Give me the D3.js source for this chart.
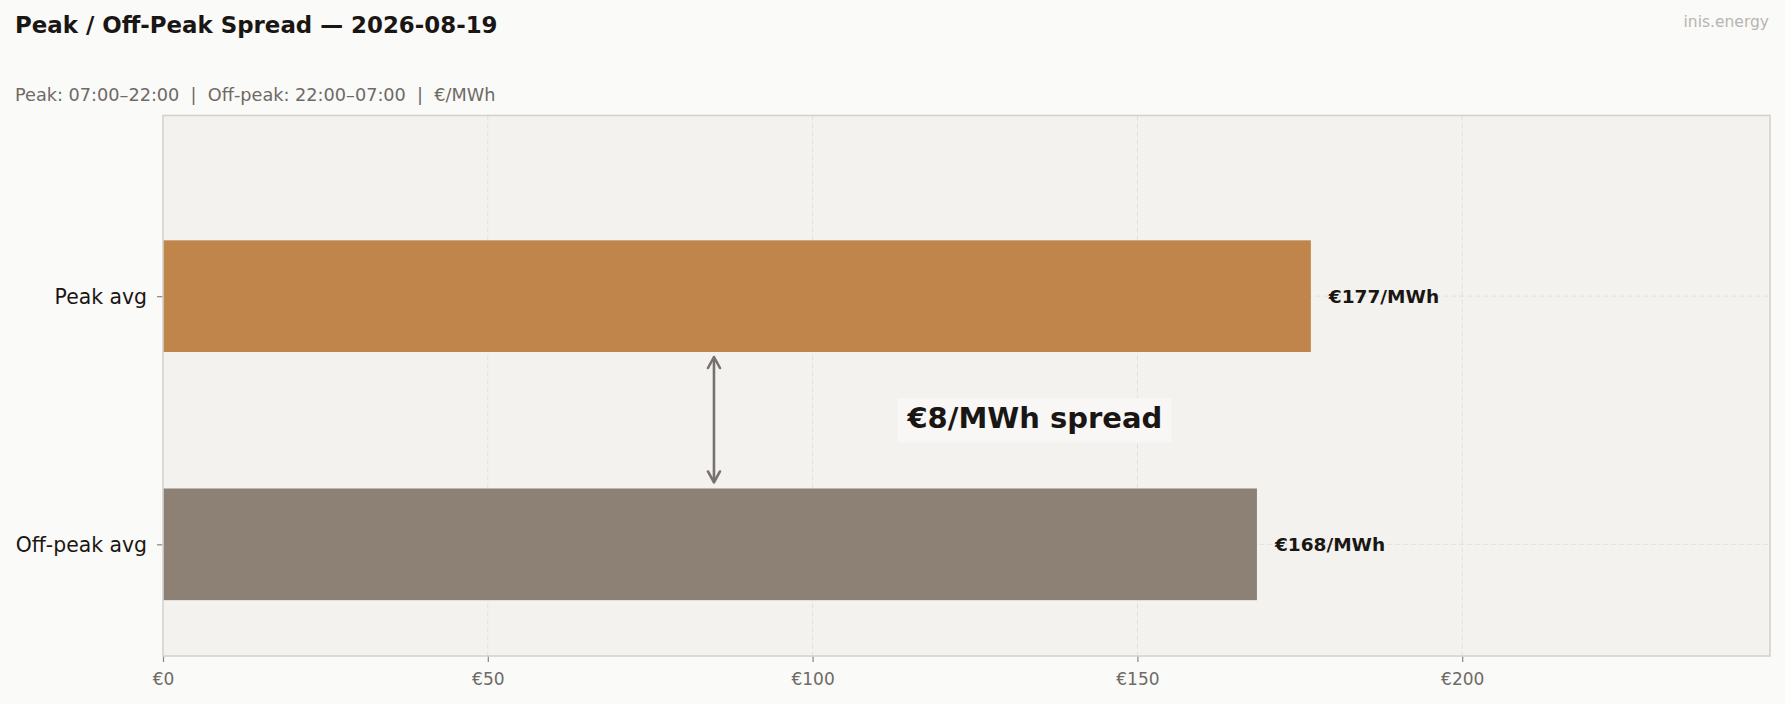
<!DOCTYPE html>
<html>
<head>
<meta charset="utf-8">
<script src="https://cdn.jsdelivr.net/npm/d3@7"></script>
<style>
  html, body { margin: 0; padding: 0; background: #fafaf8; }
  svg { display: block; font-family: "DejaVu Sans", sans-serif; }
</style>
</head>
<body>
<div id="chart"></div>
<script>
// data
var categories = ["Peak avg", "Off-peak avg"];
var values = [176.7, 168.4];
var barColors = ["#c0854a", "#8c8174"];
var xTicks = [0, 50, 100, 150, 200];
var titleText = "Peak / Off-Peak Spread \u2014 2026-08-19";
var subtitleText = "Peak: 07:00\u201322:00  |  Off-peak: 22:00\u201307:00  |  \u20ac/MWh";

function init() {
    var w = 1785;
    var h = 704;
    var left = 163, right = 1770, top = 115.5, bottom = 656;

    var xScale = d3.scaleLinear()
                   .domain([0, d3.max(values) * 1.4])
                   .range([left, right]);

    // category positions: first category on top
    var pos = function(i) { return categories.length - 1 - i; };
    var yScale = d3.scaleLinear()
                   .domain([-0.45, 1.728])
                   .range([bottom, top]);
    var barH = 0.45;

    var svg = d3.select("#chart")
                .append("svg")
                .attr("width", w)
                .attr("height", h)
                .style("background-color", "#fafaf8");

    // plot background
    svg.append("rect")
       .attr("x", left).attr("y", top)
       .attr("width", right - left).attr("height", bottom - top)
       .attr("fill", "#f3f2ee");

    // grid
    svg.append("g")
       .selectAll("line")
       .data(xTicks.slice(1))
       .enter()
       .append("line")
       .attr("x1", function(d) { return xScale(d); })
       .attr("x2", function(d) { return xScale(d); })
       .attr("y1", top).attr("y2", bottom)
       .attr("stroke", "#e3e0db")
       .attr("stroke-width", 1)
       .attr("stroke-dasharray", "5,3");

    svg.append("g")
       .selectAll("line")
       .data(categories)
       .enter()
       .append("line")
       .attr("x1", left).attr("x2", right)
       .attr("y1", function(d, i) { return yScale(pos(i)); })
       .attr("y2", function(d, i) { return yScale(pos(i)); })
       .attr("stroke", "#e3e0db")
       .attr("stroke-width", 1)
       .attr("stroke-dasharray", "5,3");

    // bars
    svg.selectAll("rect.bar")
       .data(values)
       .enter()
       .append("rect")
       .attr("class", "bar")
       .attr("x", xScale(0))
       .attr("y", function(d, i) { return yScale(pos(i) + barH / 2); })
       .attr("width", function(d) { return xScale(d) - xScale(0); })
       .attr("height", function(d, i) { return yScale(pos(i) - barH / 2) - yScale(pos(i) + barH / 2); })
       .attr("fill", function(d, i) { return barColors[i]; });

    // value labels
    svg.selectAll("text.val")
       .data(values)
       .enter()
       .append("text")
       .attr("class", "val")
       .text(function(d) { return "\u20ac" + Math.round(d) + "/MWh"; })
       .attr("x", function(d) { return xScale(d) + 18; })
       .attr("y", function(d, i) { return yScale(pos(i)); })
       .attr("dy", "0.35em")
       .attr("font-size", "18.5px")
       .attr("font-weight", "bold")
       .attr("fill", "#1a1614");

    // spread arrow
    var spread = Math.round(values[0] - values[1]);
    var ax = xScale(values[0] * 0.48);
    var yTop = yScale(pos(0) - barH / 2) + 5;
    var yBot = yScale(pos(1) + barH / 2) - 6;
    var arrowColor = "#77726d";
    svg.append("line")
       .attr("x1", ax).attr("x2", ax)
       .attr("y1", yTop + 1).attr("y2", yBot - 1)
       .attr("stroke", arrowColor)
       .attr("stroke-width", 2.6);
    [[yTop, 1], [yBot, -1]].forEach(function(p) {
        svg.append("path")
           .attr("d", "M" + (ax - 6) + "," + (p[0] + p[1] * 11) +
                      " L" + ax + "," + p[0] +
                      " L" + (ax + 6) + "," + (p[0] + p[1] * 11))
           .attr("fill", "none")
           .attr("stroke", arrowColor)
           .attr("stroke-width", 2.6)
           .attr("stroke-linecap", "round")
           .attr("stroke-linejoin", "round");
    });

    // spread label with box
    var midY = (yScale(pos(0)) + yScale(pos(1))) / 2;
    var label = svg.append("g");
    var boxRect = label.append("rect")
       .attr("fill", "#f8f7f5");
    var spreadText = label.append("text")
       .text("\u20ac" + spread + "/MWh spread")
       .attr("x", xScale(values[1] * 0.797))
       .attr("y", midY)
       .attr("dy", "0.28em")
       .attr("text-anchor", "middle")
       .attr("font-size", "29px")
       .attr("font-weight", "bold")
       .attr("fill", "#1a1614");
    var bb = spreadText.node().getBBox();
    boxRect.attr("x", bb.x - 9).attr("y", midY - 22)
           .attr("width", bb.width + 18).attr("height", 44);

    // axes
    var xAxis = d3.axisBottom(xScale)
                  .tickValues(xTicks)
                  .tickFormat(function(d) { return "\u20ac" + d; })
                  .tickSize(6)
                  .tickPadding(11);
    var gx = svg.append("g")
       .attr("transform", "translate(0," + bottom + ")")
       .call(xAxis);
    gx.select(".domain").remove();
    gx.selectAll("line").attr("stroke", "#8a8580").attr("stroke-width", 1.2);
    gx.selectAll("text")
      .attr("fill", "#6e6a66")
      .attr("font-size", "17px")
      .attr("font-family", "DejaVu Sans");

    var yAxis = d3.axisLeft(yScale)
                  .tickValues(categories.map(function(d, i) { return pos(i); }))
                  .tickFormat(function(d) { return categories[categories.length - 1 - d]; })
                  .tickSize(6)
                  .tickPadding(10);
    var gy = svg.append("g")
       .attr("transform", "translate(" + left + ",0)")
       .call(yAxis);
    gy.select(".domain").remove();
    gy.selectAll("line").attr("stroke", "#8a8580").attr("stroke-width", 1.2);
    gy.selectAll("text")
      .attr("fill", "#1a1614")
      .attr("font-size", "20.4px")
      .attr("dy", "0.36em")
      .attr("font-family", "DejaVu Sans");

    // spines
    svg.append("rect")
       .attr("x", left).attr("y", top)
       .attr("width", right - left).attr("height", bottom - top)
       .attr("fill", "none")
       .attr("stroke", "#d5d2cc")
       .attr("stroke-width", 1.6);

    // titles
    svg.append("text")
       .text(titleText)
       .attr("x", 15).attr("y", 33)
       .attr("font-size", "22.9px")
       .attr("font-weight", "bold")
       .attr("fill", "#1a1614");

    svg.append("text")
       .text(subtitleText)
       .attr("x", 15).attr("y", 101)
       .attr("font-size", "17.7px")
       .attr("fill", "#6e6a66")
       .style("white-space", "pre");

    svg.append("text")
       .text("inis.energy")
       .attr("x", 1769).attr("y", 27)
       .attr("text-anchor", "end")
       .attr("font-size", "15.5px")
       .attr("fill", "#b8b5b0");
}

window.onload = init;
</script>
</body>
</html>
